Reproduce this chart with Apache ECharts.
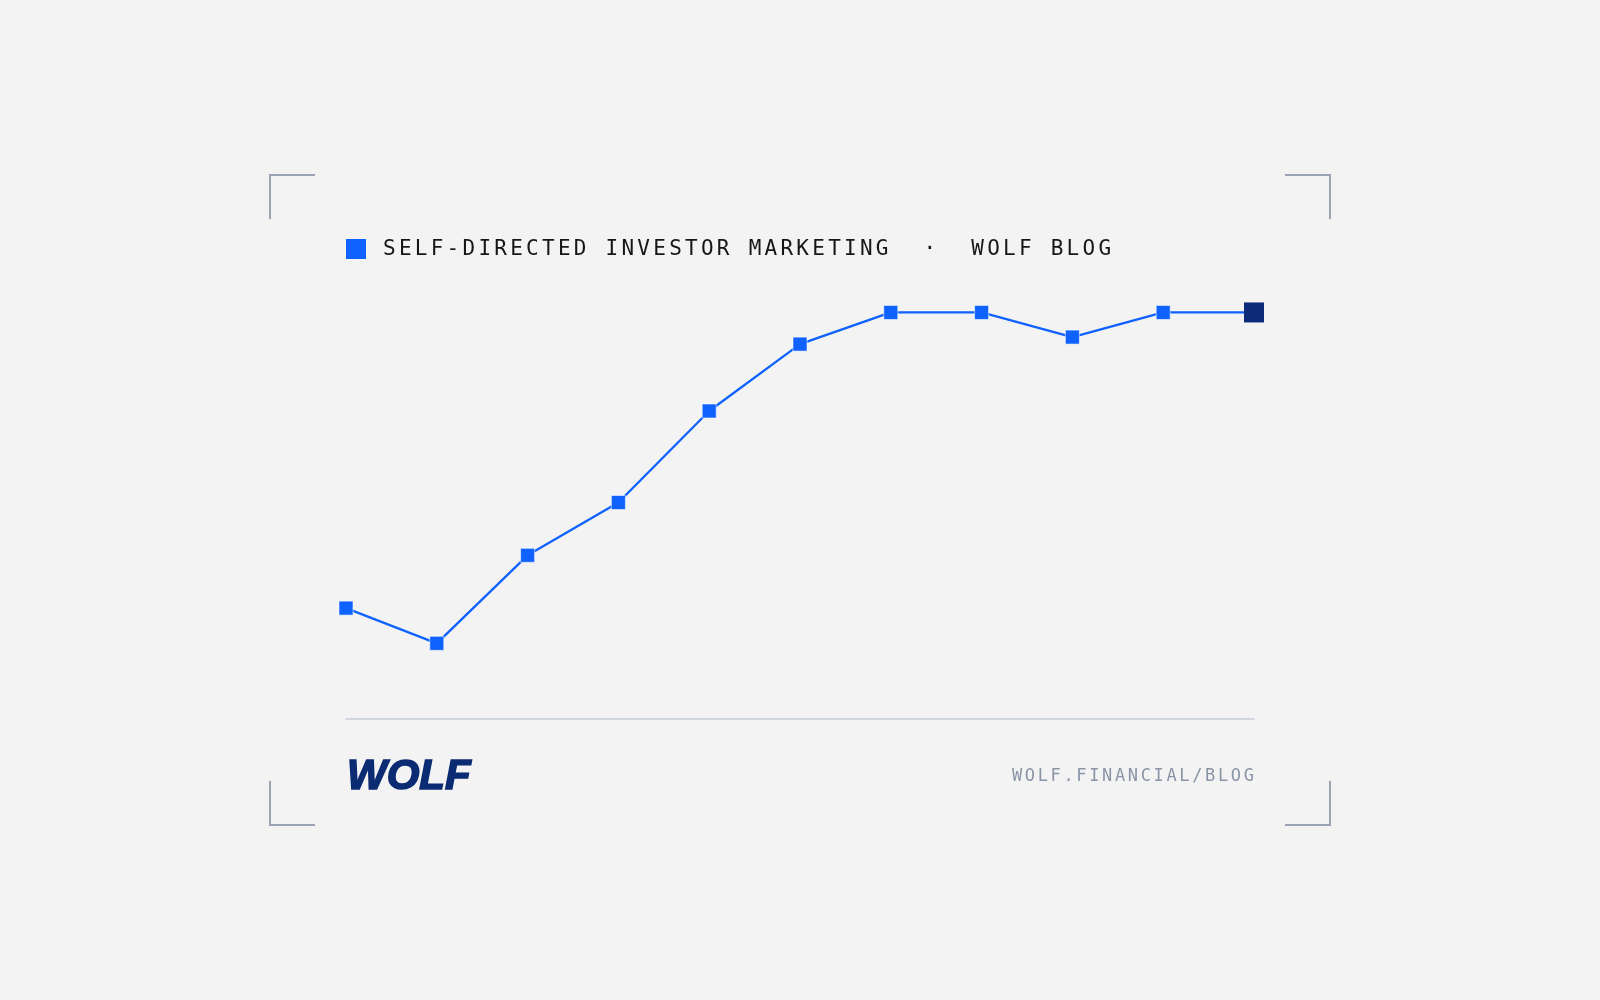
<!DOCTYPE html>
<html>
<head>
<meta charset="utf-8">
<script src="https://cdn.jsdelivr.net/npm/echarts@6/dist/echarts.min.js"></script>
<style>
  html, body { margin: 0; padding: 0; background: #f3f3f3; }
  #chart { width: 1600px; height: 1000px; }
</style>
</head>
<body>
<div id="chart"></div>
<script>
// ---- data ----
const categories = ['1', '2', '3', '4', '5', '6', '7', '8', '9', '10', '11'];
const values = [25.2, 17.2, 37.2, 49.2, 70.0, 85.2, 92.4, 92.4, 86.8, 92.4, 92.4];
const titleText = 'SELF-DIRECTED INVESTOR MARKETING  \u00b7  WOLF BLOG';
const footerText = 'WOLF.FINANCIAL/BLOG';
const logoText = 'WOLF';

// letter spacing for monospace texts (tracking ~0.155em)
(function () {
  const P = CanvasRenderingContext2D.prototype;
  if (!('letterSpacing' in P)) return;
  const ft = P.fillText, mt = P.measureText;
  function sp(ctx) {
    const f = ctx.font || '';
    if (/Mono/i.test(f)) {
      const m = f.match(/([\d.]+)px/);
      ctx.letterSpacing = (m ? parseFloat(m[1]) * 0.155 : 0) + 'px';
    } else {
      ctx.letterSpacing = '0px';
    }
  }
  P.fillText = function () { sp(this); return ft.apply(this, arguments); };
  P.measureText = function () { sp(this); return mt.apply(this, arguments); };
})();

const BLUE = '#0f62fe';
const NAVY = '#0d2a78';
const BRACKET = '#9aa4b3';

const seriesData = values.map((v, i) => i === values.length - 1
  ? { value: v, symbolSize: 20, itemStyle: { color: NAVY, borderWidth: 0 } }
  : v);

const chart = echarts.init(document.getElementById('chart'));

function bracket(points) {
  return {
    type: 'polyline',
    shape: { points: points },
    style: { stroke: BRACKET, lineWidth: 2, fill: null },
    silent: true
  };
}

chart.setOption({
  animation: false,
  backgroundColor: '#f3f3f3',
  title: {
    text: titleText,
    left: 383,
    top: 239,
    padding: 0,
    textStyle: {
      fontFamily: 'DejaVu Sans Mono',
      fontSize: 21,
      fontWeight: 'normal',
      lineHeight: 21,
      color: '#161616'
    }
  },
  grid: { left: 346, right: 346, top: 279, bottom: 281 },
  xAxis: {
    type: 'category',
    data: categories,
    boundaryGap: false,
    axisLine: { show: true, lineStyle: { color: '#c6cbd6', width: 1.5 } },
    axisTick: { show: false },
    axisLabel: { show: false },
    splitLine: { show: false }
  },
  yAxis: {
    type: 'value',
    min: 0,
    max: 100,
    show: false,
    splitLine: { show: false }
  },
  series: [{
    type: 'line',
    data: seriesData,
    symbol: 'rect',
    symbolSize: 14,
    showAllSymbol: true,
    lineStyle: { color: BLUE, width: 2.3 },
    itemStyle: { color: BLUE, borderColor: 'rgba(255,255,255,0.55)', borderWidth: 1 },
    z: 3
  }],
  graphic: [
    { type: 'rect', shape: { x: 346, y: 239, width: 20, height: 20 }, style: { fill: BLUE }, silent: true },
    bracket([[315, 175], [270, 175], [270, 219]]),
    bracket([[1285, 175], [1330, 175], [1330, 219]]),
    bracket([[270, 781], [270, 825], [315, 825]]),
    bracket([[1330, 781], [1330, 825], [1285, 825]]),
    {
      type: 'text',
      x: 347, y: 777,
      style: {
        text: logoText,
        fontFamily: 'Liberation Sans',
        fontWeight: 900,
        fontStyle: 'italic',
        fontSize: 42,
        fill: '#0b2b72',
        stroke: '#0b2b72',
        lineWidth: 1.6,
        verticalAlign: 'middle',
        align: 'left'
      },
      silent: true
    },
    {
      type: 'text',
      x: 1012, y: 777,
      style: {
        text: footerText,
        fontFamily: 'DejaVu Sans Mono',
        fontSize: 17,
        fill: '#8a94a6',
        verticalAlign: 'middle',
        align: 'left'
      },
      silent: true
    }
  ]
});
</script>
</body>
</html>
